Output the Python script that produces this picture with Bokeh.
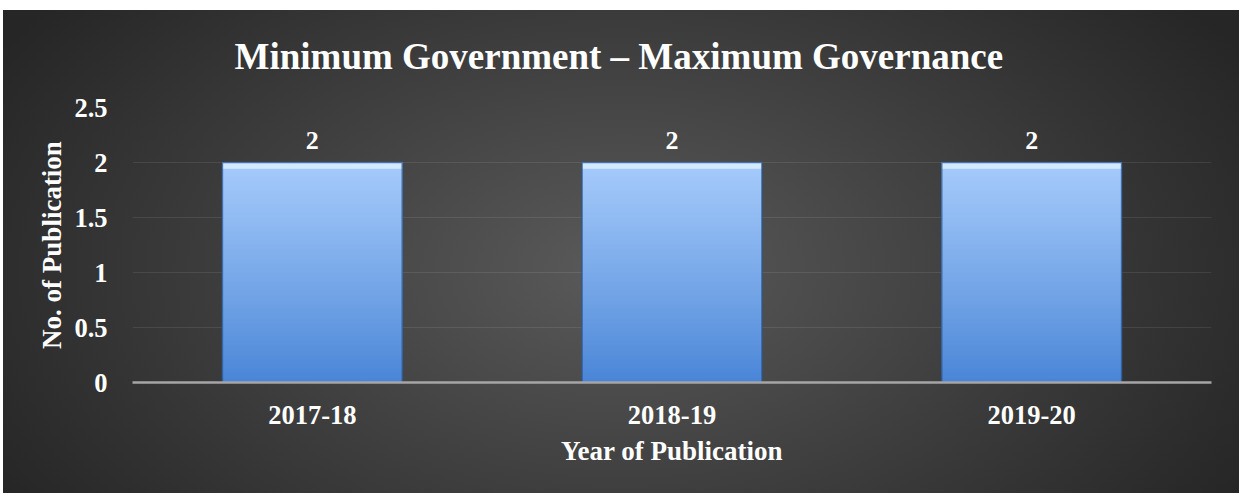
from bokeh.plotting import figure
from bokeh.models import Range1d, FactorRange, ColumnDataSource
from bokeh.core.properties import value
from bokeh.embed import file_html
from bokeh.resources import INLINE

# ---- data ----
years = ["2017-18", "2018-19", "2019-20"]
publications = [2, 2, 2]
y_ticks = [0, 0.5, 1, 1.5, 2, 2.5]
title_text = "Minimum Government \u2013 Maximum Governance"
x_title = "Year of Publication"
y_title = "No. of Publication"

FONT = "Liberation Serif"
W, H = 1239, 493
FL, FR, FT, FB = 132, 28, 107, 111

p = figure(width=W, height=H, x_range=FactorRange(*years), y_range=Range1d(0, 2.5),
           output_backend="svg", toolbar_location=None,
           min_border_left=FL, min_border_right=FR, min_border_top=FT, min_border_bottom=FB)
p.styles = {"background": (
    "linear-gradient(#ffffff,#ffffff) 0 0/100% 10px no-repeat,"
    "linear-gradient(#ffffff,#ffffff) 0 0/3px 100% no-repeat,"
    "radial-gradient(ellipse 720px 430px at 620px 270px, #5a5a5a 0%, #3d3d3d 55%, #262626 100%)")}
p.background_fill_alpha = 0
p.border_fill_alpha = 0
p.outline_line_color = None

# title: left-aligned with an offset so it is centred on the whole canvas
p.title.text = title_text
p.title.align = "left"
p.title.offset = 102
p.title.vertical_align = "bottom"
p.title.standoff = 62
p.title.text_color = "#ffffff"
p.title.text_font = FONT
p.title.text_font_style = "bold"
p.title.text_font_size = "37px"

# grid
p.xgrid.grid_line_color = None
p.ygrid.grid_line_color = "#ffffff"
p.ygrid.grid_line_alpha = 0.09
p.ygrid.grid_line_width = 1
p.yaxis.ticker = y_ticks

# axes
p.yaxis.axis_line_color = None
p.yaxis.major_tick_line_color = None
p.yaxis.minor_tick_line_color = None
p.yaxis.major_label_standoff = 19
p.yaxis.major_label_text_font = FONT
p.yaxis.major_label_text_font_style = "bold"
p.yaxis.major_label_text_font_size = "26.5px"
p.yaxis.major_label_text_color = "#ffffff"
p.yaxis.axis_label = y_title
p.yaxis.axis_label_text_font = FONT
p.yaxis.axis_label_text_font_style = "bold"
p.yaxis.axis_label_text_font_size = "27px"
p.yaxis.axis_label_text_color = "#ffffff"
p.yaxis.axis_label_standoff = 4

p.xaxis.axis_line_color = "#a6a6a6"
p.xaxis.axis_line_width = 2.5
p.xaxis.major_tick_line_color = None
p.xaxis.minor_tick_line_color = None
p.xaxis.major_label_standoff = 17
p.xaxis.major_label_text_font = FONT
p.xaxis.major_label_text_font_style = "bold"
p.xaxis.major_label_text_font_size = "26.5px"
p.xaxis.major_label_text_color = "#ffffff"
p.xaxis.axis_label = x_title
p.xaxis.axis_label_text_font = FONT
p.xaxis.axis_label_text_font_style = "bold"
p.xaxis.axis_label_text_font_size = "27px"
p.xaxis.axis_label_text_color = "#ffffff"
p.xaxis.axis_label_standoff = 9

# bars with vertical gradient (overlapping slices of each value, bottom to top)
def lerp(c1, c2, t):
    a = [int(c1[i:i + 2], 16) for i in (1, 3, 5)]
    b = [int(c2[i:i + 2], 16) for i in (1, 3, 5)]
    return "#%02x%02x%02x" % tuple(round(a[k] + (b[k] - a[k]) * t) for k in range(3))

N = 48
BOTTOM_C, TOP_C = "#4884d6", "#a6cbfb"
for i in range(N):
    t = (i + 0.5) / N
    p.vbar(x=years, bottom=[v * i / N for v in publications], top=publications, width=0.5,
           fill_color=lerp(BOTTOM_C, TOP_C, t ** 0.9), line_color=None)
# bevel highlight at top
p.vbar(x=years, bottom=[v * 0.972 for v in publications], top=publications, width=0.5,
       fill_color="#d3e9ff", line_color=None)
# outline
p.vbar(x=years, top=publications, width=0.5, fill_color=None,
       line_color="#2c5a96", line_alpha=0.8, line_width=1.5)

# data labels
src = ColumnDataSource(dict(x=years, y=publications, t=[str(v) for v in publications]))
p.text(x="x", y="y", text="t", source=src, y_offset=-22, text_align="center",
       text_baseline="middle", text_color="#ffffff", text_font=value(FONT),
       text_font_style="bold", text_font_size="26px")

open("out.html", "w").write(file_html(p, INLINE))
